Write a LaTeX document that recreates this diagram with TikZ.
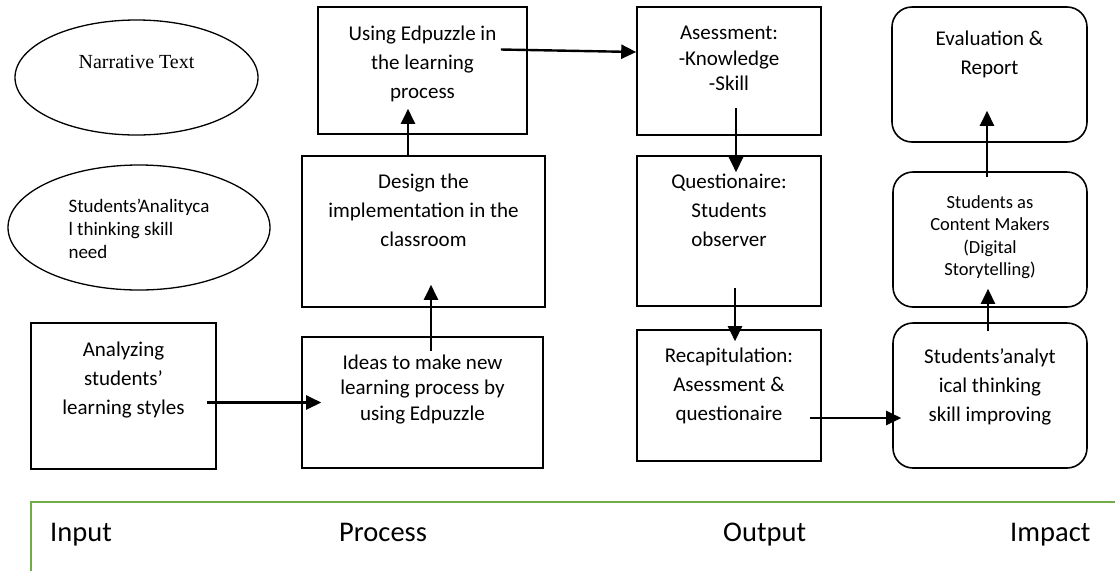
\documentclass[tikz,border=0pt]{standalone}
\usepackage{fontspec}
\setmainfont{Carlito}
\newfontfamily\timesfont{Liberation Serif}
\usetikzlibrary{shapes.geometric,arrows.meta}

\definecolor{phasegreen}{RGB}{112,173,71}

\tikzset{
  box/.style={draw, line width=1.6pt, inner sep=0pt},
  roundbox/.style={box, rounded corners=20pt},
  oval/.style={draw, ellipse, line width=1.3pt, inner sep=0pt},
  txt/.style={align=center, inner sep=0pt, anchor=center, font=\fontsize{21}{29}\selectfont},
  tighttxt/.style={txt, font=\fontsize{21}{25.5}\selectfont},
  smalltxt/.style={txt, font=\fontsize{18.5}{22.5}\selectfont},
  arr/.style={line width=2.4pt, -{Triangle[length=15pt,width=14pt]}},
  phase/.style={anchor=base west, inner sep=0pt, font=\fontsize{28.5}{33}\selectfont},
  greenline/.style={draw=phasegreen, line width=2.5pt},
}

\begin{document}
\begin{tikzpicture}[x=1pt,y=-1pt]
\useasboundingbox (0,0) rectangle (1115,571);

% input column
\node[oval, minimum width=243pt, minimum height=115pt,
  label={[inner sep=0pt, anchor=center, yshift=-43pt, font=\timesfont\fontsize{20}{24}\selectfont]90:Narrative Text}]
  (narr) at (136.5,77.5) {};
\node[oval, minimum width=262pt, minimum height=125pt,
  label={[txt, align=left, yshift=-65pt, font=\fontsize{19}{23}\selectfont]90:{Students'Analityca\\l thinking skill\\need}}]
  (need) at (139,227.5) {};
\node[box, minimum width=185pt, minimum height=146pt,
  label={[txt, yshift=-58pt]90:{Analyzing\\students'\\learning styles}}]
  (analyze) at (123.5,396) {};

% process column
\node[box, minimum width=209pt, minimum height=127pt,
  label={[txt, yshift=-57.5pt]90:{Using Edpuzzle in\\the learning\\process}}]
  (using) at (422.5,70.5) {};
\node[box, minimum width=243pt, minimum height=151pt,
  label={[txt, yshift=-55.5pt]90:{Design the\\implementation in the\\classroom}}]
  (design) at (423.5,231.5) {};
\node[box, minimum width=241pt, minimum height=131pt,
  label={[tighttxt, yshift=-53pt]90:{Ideas to make new\\learning process by\\using Edpuzzle}}]
  (ideas) at (422.5,402.5) {};

% output column
\node[box, minimum width=184pt, minimum height=128pt,
  label={[tighttxt, yshift=-52.5pt]90:{Asessment:\\-Knowledge\\-Skill}}]
  (assess) at (729,71) {};
\node[box, minimum width=184pt, minimum height=150pt,
  label={[txt, yshift=-55pt]90:{Questionaire:\\Students\\observer}}]
  (quest) at (729,231) {};
\node[box, minimum width=184pt, minimum height=131pt,
  label={[txt, yshift=-57pt]90:{Recapitulation:\\Asessment \&\\questionaire}}]
  (recap) at (729,395.5) {};

% impact column
\node[roundbox, minimum width=195pt, minimum height=135pt,
  label={[txt, yshift=-48.5pt]90:{Evaluation \&\\Report}}]
  (eval) at (989.5,74.5) {};
\node[roundbox, minimum width=194pt, minimum height=135pt,
  label={[smalltxt, yshift=-66pt]90:{Students as\\Content Makers\\(Digital\\Storytelling)}}]
  (content) at (990,239.5) {};
\node[roundbox, minimum width=194pt, minimum height=145pt,
  label={[txt, yshift=-64.5pt]90:{Students'analyt\\ical thinking\\skill improving}}]
  (improve) at (990,395.5) {};

% arrows
\draw[arr, shorten <=-10pt, shorten >=-20pt] (analyze.east |- ideas) -- (ideas.west);
\draw[arr, shorten <=-15pt, shorten >=-23pt] ([xshift=8.5pt]ideas.north) -- ([xshift=7.5pt]design.south);
\draw[arr, shorten >=-26pt] ([xshift=-15.5pt]design.north) -- ([xshift=-14.5pt]using.south);
\draw[arr, shorten <=-27pt] ([yshift=20.5pt]using.east) -- ([yshift=19pt]assess.west);
\draw[arr, shorten <=-28pt, shorten >=-17pt] ([xshift=7pt]assess.south) -- ([xshift=7pt]quest.north);
\draw[arr, shorten <=-19pt, shorten >=-12pt] ([xshift=6pt]quest.south) -- ([xshift=6pt]recap.north);
\draw[arr, shorten <=-12pt, shorten >=-9pt] ([yshift=-22.5pt]recap.east) -- ([yshift=-22.5pt]improve.west);
\draw[arr, shorten <=-9pt, shorten >=-19pt] ([xshift=-2pt]improve.north) -- ([xshift=-2pt]content.south);
\draw[arr, shorten <=-6pt, shorten >=-32pt] ([xshift=-3pt]content.north) -- ([xshift=-2.5pt]eval.south);

% phase bar
\draw[greenline] (31,571) -- (31,502) -- (1115,502);
\node[phase] (input) at (50,541) {Input};
\node[phase] (process) at (339,541) {Process};
\node[phase] (output) at (723,541) {Output};
\node[phase] (impact) at (1010,541) {Impact};
\end{tikzpicture}
\end{document}
